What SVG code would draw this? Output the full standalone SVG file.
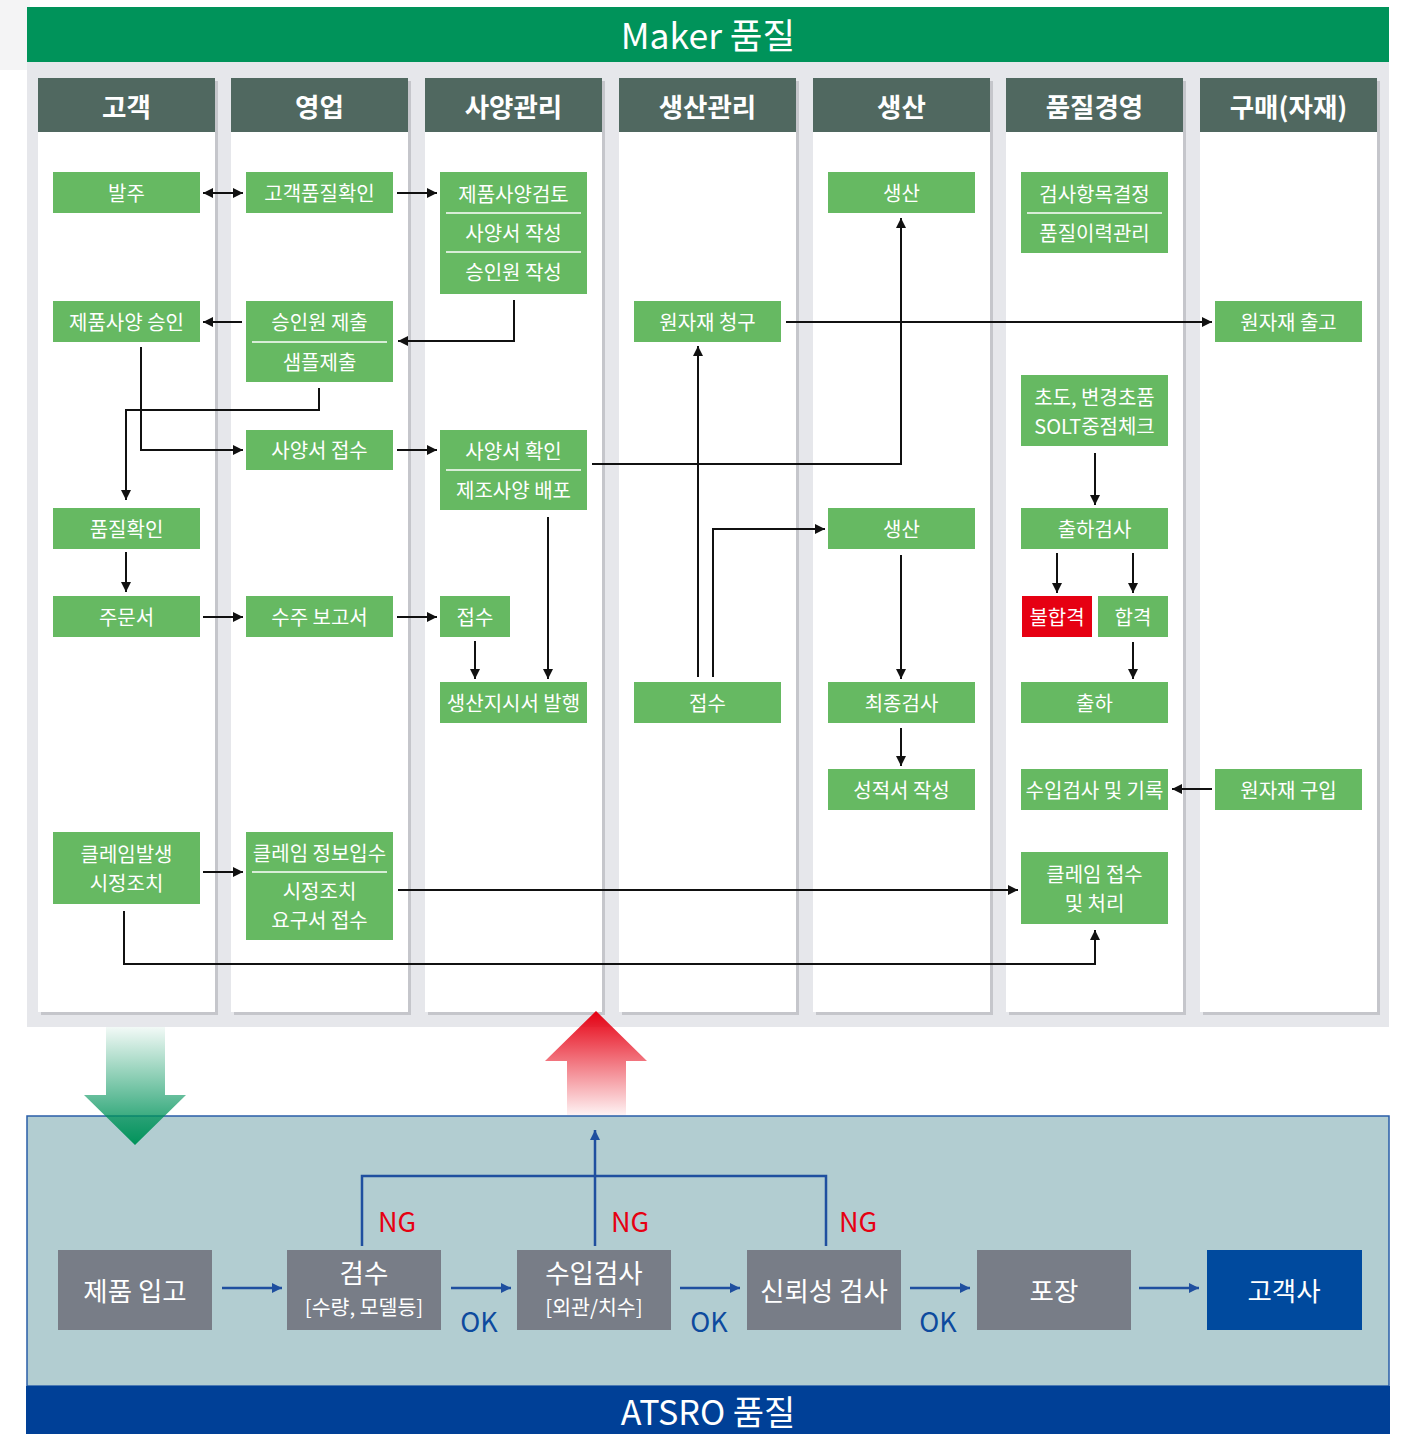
<svg xmlns="http://www.w3.org/2000/svg" width="1401" height="1434" viewBox="0 0 1401 1434">
<style>
.t{font-family:"Noto Sans CJK KR","Noto Sans",sans-serif;fill:#fff;text-anchor:middle;dominant-baseline:central}
.nt{font-size:20px}
.ht{font-size:26.5px;font-weight:bold}
.bt{font-size:26.5px}
.st{font-size:20.5px}
.n{fill:#66b962}
.hd{fill:#506860}
.col{fill:#fff}
.sh{fill:#c5c6cb}
.dv{stroke:#fff;stroke-width:1.5}
.c{fill:none;stroke:#111;stroke-width:2}
.cb{fill:none;stroke:#1f4f9f;stroke-width:2.5}
.g{fill:#787d87}
.ok{font-family:"Noto Sans CJK KR","Noto Sans",sans-serif;font-size:27px;fill:#0d4a9e;text-anchor:middle;dominant-baseline:central}
.ng{font-family:"Noto Sans CJK KR","Noto Sans",sans-serif;font-size:27px;fill:#e60012;text-anchor:middle;dominant-baseline:central}
</style>
<defs>
<marker id="ah" viewBox="0 0 10 10" refX="10" refY="5" markerWidth="10" markerHeight="10" markerUnits="userSpaceOnUse" orient="auto-start-reverse"><path d="M0,0 L10,5 L0,10 z" fill="#111"/></marker>
<marker id="ab" viewBox="0 0 10 10" refX="10" refY="5" markerWidth="10" markerHeight="10" markerUnits="userSpaceOnUse" orient="auto-start-reverse"><path d="M0,0 L10,5 L0,10 z" fill="#1f4f9f"/></marker>
<linearGradient id="gg" x1="0" y1="0" x2="0" y2="1"><stop offset="0" stop-color="#00935a" stop-opacity="0.05"/><stop offset="1" stop-color="#00935a"/></linearGradient>
<linearGradient id="rg" x1="0" y1="0" x2="0" y2="1"><stop offset="0" stop-color="#e60012"/><stop offset="1" stop-color="#e60012" stop-opacity="0.05"/></linearGradient>
</defs>
<rect x="0" y="0" width="1401" height="1434" fill="#fff"/>
<rect x="0" y="0" width="30" height="70" fill="#f4f4f5"/>
<!-- top section -->
<rect x="27" y="62" width="1362" height="965" fill="#e6e7eb"/>
<rect x="27" y="7" width="1362" height="55" fill="#00935a"/>
<text class="t" x="708" y="33" font-size="35.5">Maker 품질</text>
<!-- columns -->
<g id="columns">
<rect class="sh" x="41" y="81" width="177" height="934"/><rect class="col" x="38" y="78" width="177" height="934"/><rect class="hd" x="38" y="78" width="177" height="54"/><text class="t ht" x="126.5" y="105">고객</text>
<rect class="sh" x="234" y="81" width="177" height="934"/><rect class="col" x="231" y="78" width="177" height="934"/><rect class="hd" x="231" y="78" width="177" height="54"/><text class="t ht" x="319.5" y="105">영업</text>
<rect class="sh" x="428" y="81" width="177" height="934"/><rect class="col" x="425" y="78" width="177" height="934"/><rect class="hd" x="425" y="78" width="177" height="54"/><text class="t ht" x="513.5" y="105">사양관리</text>
<rect class="sh" x="622" y="81" width="177" height="934"/><rect class="col" x="619" y="78" width="177" height="934"/><rect class="hd" x="619" y="78" width="177" height="54"/><text class="t ht" x="707.5" y="105">생산관리</text>
<rect class="sh" x="816" y="81" width="177" height="934"/><rect class="col" x="813" y="78" width="177" height="934"/><rect class="hd" x="813" y="78" width="177" height="54"/><text class="t ht" x="901.5" y="105">생산</text>
<rect class="sh" x="1009" y="81" width="177" height="934"/><rect class="col" x="1006" y="78" width="177" height="934"/><rect class="hd" x="1006" y="78" width="177" height="54"/><text class="t ht" x="1094.5" y="105">품질경영</text>
<rect class="sh" x="1203" y="81" width="177" height="934"/><rect class="col" x="1200" y="78" width="177" height="934"/><rect class="hd" x="1200" y="78" width="177" height="54"/><text class="t ht" x="1288.5" y="105">구매(자재)</text>
</g>
<!-- nodes -->
<g id="n-balju"><rect class="n" x="53" y="172" width="147" height="41"/><text class="t nt" x="126.5" y="192">발주</text></g>
<g id="n-gogaekpumjil"><rect class="n" x="246" y="172" width="147" height="41"/><text class="t nt" x="319.5" y="192">고객품질확인</text></g>
<g id="n-spec-review"><rect class="n" x="440" y="172" width="147" height="122"/><line class="dv" x1="446" y1="213" x2="581" y2="213"/><line class="dv" x1="446" y1="252" x2="581" y2="252"/><text class="t nt" x="513.5" y="193">제품사양검토</text><text class="t nt" x="513.5" y="232">사양서 작성</text><text class="t nt" x="513.5" y="271">승인원 작성</text></g>
<g id="n-saengsan1"><rect class="n" x="828" y="172" width="147" height="41"/><text class="t nt" x="901.5" y="192">생산</text></g>
<g id="n-inspect-item"><rect class="n" x="1021" y="172" width="147" height="81"/><line class="dv" x1="1027" y1="213" x2="1162" y2="213"/><text class="t nt" x="1094.5" y="193">검사항목결정</text><text class="t nt" x="1094.5" y="232">품질이력관리</text></g>
<g id="n-spec-approve"><rect class="n" x="53" y="301" width="147" height="41"/><text class="t nt" x="126.5" y="321">제품사양 승인</text></g>
<g id="n-submit"><rect class="n" x="246" y="301" width="147" height="81"/><line class="dv" x1="252" y1="342" x2="387" y2="342"/><text class="t nt" x="319.5" y="321">승인원 제출</text><text class="t nt" x="319.5" y="361">샘플제출</text></g>
<g id="n-raw-request"><rect class="n" x="634" y="301" width="147" height="41"/><text class="t nt" x="707.5" y="321">원자재 청구</text></g>
<g id="n-raw-out"><rect class="n" x="1215" y="301" width="147" height="41"/><text class="t nt" x="1288.5" y="321">원자재 출고</text></g>
<g id="n-solt"><rect class="n" x="1021" y="375" width="147" height="71"/><text class="t nt" x="1094.5" y="396">초도, 변경초품</text><text class="t nt" x="1094.5" y="425">SOLT중점체크</text></g>
<g id="n-spec-receive"><rect class="n" x="246" y="430" width="147" height="40"/><text class="t nt" x="319.5" y="449">사양서 접수</text></g>
<g id="n-spec-check"><rect class="n" x="440" y="430" width="147" height="80"/><line class="dv" x1="446" y1="470" x2="581" y2="470"/><text class="t nt" x="513.5" y="450">사양서 확인</text><text class="t nt" x="513.5" y="489">제조사양 배포</text></g>
<g id="n-quality-check"><rect class="n" x="53" y="508" width="147" height="41"/><text class="t nt" x="126.5" y="528">품질확인</text></g>
<g id="n-saengsan2"><rect class="n" x="828" y="508" width="147" height="41"/><text class="t nt" x="901.5" y="528">생산</text></g>
<g id="n-ship-inspect"><rect class="n" x="1021" y="508" width="147" height="41"/><text class="t nt" x="1094.5" y="528">출하검사</text></g>
<g id="n-order"><rect class="n" x="53" y="596" width="147" height="41"/><text class="t nt" x="126.5" y="616">주문서</text></g>
<g id="n-order-report"><rect class="n" x="246" y="596" width="147" height="41"/><text class="t nt" x="319.5" y="616">수주 보고서</text></g>
<g id="n-receive1"><rect class="n" x="440" y="596" width="70" height="41"/><text class="t nt" x="475" y="616">접수</text></g>
<g id="n-fail"><rect x="1022" y="596" width="70" height="41" fill="#e60012"/><text class="t nt" x="1057" y="616">불합격</text></g>
<g id="n-pass"><rect class="n" x="1098" y="596" width="70" height="41"/><text class="t nt" x="1133" y="616">합격</text></g>
<g id="n-prod-order"><rect class="n" x="440" y="682" width="147" height="41"/><text class="t nt" x="513.5" y="702">생산지시서 발행</text></g>
<g id="n-receive2"><rect class="n" x="634" y="682" width="147" height="41"/><text class="t nt" x="707.5" y="702">접수</text></g>
<g id="n-final-inspect"><rect class="n" x="828" y="682" width="147" height="41"/><text class="t nt" x="901.5" y="702">최종검사</text></g>
<g id="n-ship"><rect class="n" x="1021" y="682" width="147" height="41"/><text class="t nt" x="1094.5" y="702">출하</text></g>
<g id="n-report"><rect class="n" x="828" y="769" width="147" height="41"/><text class="t nt" x="901.5" y="789">성적서 작성</text></g>
<g id="n-incoming"><rect class="n" x="1021" y="769" width="147" height="41"/><text class="t nt" x="1094.5" y="789">수입검사 및 기록</text></g>
<g id="n-raw-buy"><rect class="n" x="1215" y="769" width="147" height="41"/><text class="t nt" x="1288.5" y="789">원자재 구입</text></g>
<g id="n-claim"><rect class="n" x="53" y="832" width="147" height="72"/><text class="t nt" x="126.5" y="853">클레임발생</text><text class="t nt" x="126.5" y="882">시정조치</text></g>
<g id="n-claim-info"><rect class="n" x="246" y="832" width="147" height="108"/><line class="dv" x1="252" y1="872" x2="387" y2="872"/><text class="t nt" x="319.5" y="852">클레임 정보입수</text><text class="t nt" x="319.5" y="890">시정조치</text><text class="t nt" x="319.5" y="919">요구서 접수</text></g>
<g id="n-claim-handle"><rect class="n" x="1021" y="852" width="147" height="72"/><text class="t nt" x="1094.5" y="873">클레임 접수</text><text class="t nt" x="1094.5" y="902">및 처리</text></g>
<!-- connectors -->
<g id="connectors">
<line class="c" x1="203" y1="193" x2="243" y2="193" marker-start="url(#ah)" marker-end="url(#ah)"/>
<line class="c" x1="397" y1="193" x2="437" y2="193" marker-end="url(#ah)"/>
<polyline class="c" points="514,300 514,341 398,341" marker-end="url(#ah)"/>
<line class="c" x1="242" y1="322" x2="203" y2="322" marker-end="url(#ah)"/>
<polyline class="c" points="141,347 141,450 243,450" marker-end="url(#ah)"/>
<polyline class="c" points="319,388 319,410 126,410 126,500" marker-end="url(#ah)"/>
<line class="c" x1="397" y1="450" x2="437" y2="450" marker-end="url(#ah)"/>
<polyline class="c" points="592,464 901,464 901,218" marker-end="url(#ah)"/>
<line class="c" x1="786" y1="322" x2="1212" y2="322" marker-end="url(#ah)"/>
<line class="c" x1="126" y1="552" x2="126" y2="592" marker-end="url(#ah)"/>
<line class="c" x1="203" y1="617" x2="243" y2="617" marker-end="url(#ah)"/>
<line class="c" x1="397" y1="617" x2="437" y2="617" marker-end="url(#ah)"/>
<line class="c" x1="475" y1="641" x2="475" y2="679" marker-end="url(#ah)"/>
<line class="c" x1="548" y1="517" x2="548" y2="679" marker-end="url(#ah)"/>
<line class="c" x1="698" y1="677" x2="698" y2="346" marker-end="url(#ah)"/>
<polyline class="c" points="713,677 713,529 825,529" marker-end="url(#ah)"/>
<line class="c" x1="901" y1="555" x2="901" y2="679" marker-end="url(#ah)"/>
<line class="c" x1="901" y1="728" x2="901" y2="766" marker-end="url(#ah)"/>
<line class="c" x1="1095" y1="453" x2="1095" y2="505" marker-end="url(#ah)"/>
<line class="c" x1="1057" y1="553" x2="1057" y2="593" marker-end="url(#ah)"/>
<line class="c" x1="1133" y1="553" x2="1133" y2="593" marker-end="url(#ah)"/>
<line class="c" x1="1133" y1="642" x2="1133" y2="679" marker-end="url(#ah)"/>
<line class="c" x1="1212" y1="789" x2="1172" y2="789" marker-end="url(#ah)"/>
<line class="c" x1="203" y1="872" x2="243" y2="872" marker-end="url(#ah)"/>
<line class="c" x1="398" y1="890" x2="1018" y2="890" marker-end="url(#ah)"/>
<polyline class="c" points="124,911 124,964 1095,964 1095,930" marker-end="url(#ah)"/>
</g>
<!-- bottom section -->
<rect x="27" y="1116" width="1362" height="270" fill="#b2cdd1" stroke="#2a5ea8" stroke-width="1.5"/>
<rect x="26" y="1386" width="1364" height="48" fill="#004097"/>
<text class="t" x="708" y="1410" font-size="34">ATSRO 품질</text>
<!-- big arrows -->
<g id="arrow-down"><path d="M106,1027 H165 V1095 H186 L135,1145 L84,1095 H106 Z" fill="url(#gg)"/></g>
<g id="arrow-up"><path d="M596,1011 L647,1061 H626 V1115 H567 V1061 H545 Z" fill="url(#rg)"/></g>
<g id="bottom-connectors">
<line class="cb" x1="222" y1="1288" x2="282" y2="1288" marker-end="url(#ab)"/>
<line class="cb" x1="451" y1="1288" x2="511" y2="1288" marker-end="url(#ab)"/>
<line class="cb" x1="680" y1="1288" x2="740" y2="1288" marker-end="url(#ab)"/>
<line class="cb" x1="910" y1="1288" x2="970" y2="1288" marker-end="url(#ab)"/>
<line class="cb" x1="1139" y1="1288" x2="1199" y2="1288" marker-end="url(#ab)"/>
<polyline class="cb" points="362,1246 362,1176 826,1176 826,1246"/>
<line class="cb" x1="595" y1="1246" x2="595" y2="1130" marker-end="url(#ab)"/>
</g>
<g id="b-in"><rect class="g" x="58" y="1250" width="154" height="80"/><text class="t bt" x="135" y="1289">제품 입고</text></g>
<g id="b-check"><rect class="g" x="287" y="1250" width="154" height="80"/><text class="t bt" x="364" y="1271">검수</text><text class="t st" x="364" y="1306">[수량, 모델등]</text></g>
<g id="b-incoming"><rect class="g" x="517" y="1250" width="154" height="80"/><text class="t bt" x="594" y="1271">수입검사</text><text class="t st" x="594" y="1306">[외관/치수]</text></g>
<g id="b-reliab"><rect class="g" x="747" y="1250" width="154" height="80"/><text class="t bt" x="824" y="1289">신뢰성 검사</text></g>
<g id="b-pack"><rect class="g" x="977" y="1250" width="154" height="80"/><text class="t bt" x="1054" y="1289">포장</text></g>
<g id="b-customer"><rect x="1207" y="1250" width="155" height="80" fill="#004a9e"/><text class="t bt" x="1284" y="1289">고객사</text></g>
<text class="ng" x="397" y="1220">NG</text>
<text class="ng" x="630" y="1220">NG</text>
<text class="ng" x="858" y="1220">NG</text>
<text class="ok" x="479" y="1320">OK</text>
<text class="ok" x="709" y="1320">OK</text>
<text class="ok" x="938" y="1320">OK</text>
</svg>
